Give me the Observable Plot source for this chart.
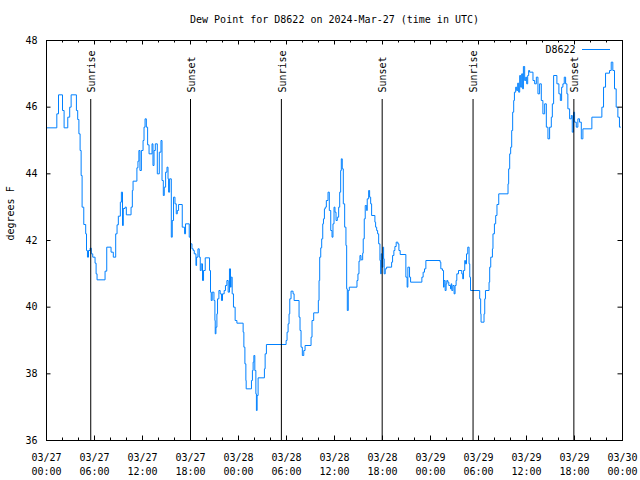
<!DOCTYPE html>
<html>
<head>
<meta charset="utf-8">
<script src="https://cdn.jsdelivr.net/npm/d3@7"></script>
<script src="https://cdn.jsdelivr.net/npm/@observablehq/plot@0.6"></script>
<style>
  html, body { margin: 0; padding: 0; background: #fff; }
  svg { display: block; }
</style>
</head>
<body>
<div id="chart"></div>
<script>
const chartTitle = "Dew Point for D8622 on 2024-Mar-27 (time in UTC)";
const yLabel = "degrees F";
const seriesName = "D8622";
const startUTC = Date.UTC(2024, 2, 27, 0, 0, 0);
const endHour = 72;

// hours since 2024-03-27 00:00 UTC
const hours = [
  0, 1.29, 1.5, 2.0, 2.2, 2.66, 2.9, 3.08, 3.74, 3.9, 4.05, 4.2, 4.33, 4.45, 4.66, 4.9, 5.0, 5.12, 5.25, 5.45,
  5.6, 5.78, 6.07, 6.2, 6.32, 7.32, 7.53, 8.07, 8.35, 8.65, 8.82, 8.98, 9.23, 9.36, 9.5, 9.6, 9.82, 9.98, 10.57, 10.73,
  10.82, 11.3, 11.43, 11.55, 11.68, 11.86, 12.07, 12.19, 12.32, 12.48, 12.64, 12.82, 13.19, 13.31, 13.44, 13.6, 13.85, 14.1, 14.31, 14.44,
  14.6, 14.72, 14.89, 15.06, 15.19, 15.26, 15.39, 15.6, 15.72, 15.88, 16.06, 16.22, 16.35, 16.51, 16.97, 17.26, 17.38, 17.84, 18.0, 18.18,
  18.34, 18.47, 18.68, 18.76, 18.93, 19.09, 19.22, 19.34, 19.5, 19.63, 19.84, 20.38, 20.5, 20.59, 20.71, 20.93, 21.05, 21.09, 21.18, 21.3,
  21.38, 21.55, 21.71, 21.87, 22.0, 22.21, 22.37, 22.55, 22.71, 22.87, 23.0, 23.08, 23.21, 23.37, 23.58, 23.8, 24.58, 24.67, 24.8, 24.92,
  24.96, 25.62, 25.74, 25.83, 25.92, 26.04, 26.17, 26.24, 26.33, 26.45, 27.24, 27.33, 27.49, 29.95, 30.07, 30.2, 30.32, 30.41, 30.57, 30.82,
  30.95, 31.57, 31.69, 31.82, 31.98, 32.16, 32.32, 33.07, 33.19, 33.4, 33.98, 34.07, 34.15, 34.28, 34.4, 34.53, 34.62, 34.74, 34.85, 34.98,
  35.19, 35.35, 35.53, 35.69, 35.81, 35.94, 36.06, 36.19, 36.35, 36.52, 36.65, 36.77, 36.85, 36.97, 37.1, 37.27, 37.43, 37.52, 37.6, 37.72,
  37.85, 38.81, 38.93, 39.06, 39.18, 39.31, 39.52, 39.59, 39.72, 39.84, 40.02, 40.09, 40.27, 40.39, 40.52, 40.64, 41.05, 41.14, 41.27, 41.39,
  41.52, 41.68, 41.77, 41.84, 41.93, 42.05, 42.14, 42.21, 42.34, 42.51, 43.14, 43.26, 43.42, 43.55, 43.71, 43.92, 44.05, 44.21, 44.92, 45.08,
  45.17, 45.38, 45.51, 46.92, 47.08, 47.25, 47.42, 49.2, 49.29, 49.5, 49.63, 49.7, 49.83, 49.95, 50.04, 50.16, 50.29, 50.5, 50.58, 50.66,
  50.79, 50.95, 51.07, 51.2, 51.29, 51.5, 51.91, 52.03, 52.12, 52.28, 52.37, 52.5, 52.66, 52.82, 52.91, 53.0, 54.15, 54.27, 54.32, 54.69,
  54.78, 54.87, 55.32, 55.4, 55.53, 55.74, 55.81, 55.99, 56.15, 56.31, 56.53, 57.69, 57.77, 57.9, 58.02, 58.15, 58.27, 58.4, 58.49, 58.65,
  58.77, 58.9, 59.02, 59.15, 59.27, 59.4, 59.52, 59.61, 59.77, 59.9, 60.02, 60.15, 60.27, 60.39, 60.81, 61.02, 61.23, 61.43, 61.64, 61.85,
  62.05, 62.27, 62.48, 62.68, 62.89, 63.1, 63.23, 63.39, 63.8, 64.05, 64.23, 64.39, 64.55, 64.72, 64.89, 65.05, 65.17, 65.39, 65.6, 65.72,
  65.88, 66.01, 66.22, 66.42, 66.63, 66.85, 67.05, 68.17, 69.42, 69.63, 69.88, 70.38, 70.59, 70.79, 71.0, 71.21, 71.42, 71.62, 71.75
];

// dew point, degrees F
const dewPoint = [
  45.38, 45.8, 46.37, 45.9, 45.38, 45.7, 46.0, 46.37, 45.9, 45.63, 45.2, 44.7, 43.95, 43.0, 42.48, 42.2, 41.7, 41.5, 41.7, 41.77,
  41.6, 41.5, 41.32, 41.0, 40.82, 41.08, 41.8, 41.65, 41.5, 42.2, 42.47, 42.73, 43.15, 43.45, 42.45, 42.96, 43.0, 42.77, 43.0, 43.5,
  43.78, 44.18, 44.38, 44.7, 44.1, 44.7, 45.0, 45.4, 45.65, 45.4, 44.87, 44.6, 44.9, 44.25, 44.7, 44.9, 44.0, 44.65, 45.0, 43.8,
  43.35, 43.6, 44.05, 44.2, 43.85, 43.45, 43.85, 42.1, 42.6, 43.3, 43.1, 42.8, 42.9, 43.08, 42.4, 42.2, 42.5, 42.1, 41.9, 41.75,
  41.7, 41.6, 41.25, 41.5, 41.75, 41.5, 41.1, 41.3, 40.8, 41.1, 41.48, 41.1, 40.45, 40.2, 40.45, 40.2, 39.6, 39.2, 39.4, 39.8,
  40.25, 40.5, 40.4, 40.2, 40.4, 40.5, 40.65, 40.8, 40.45, 41.15, 40.6, 40.9, 40.4, 40.0, 39.6, 39.52, 39.25, 38.8, 38.3, 37.8,
  37.55, 37.8, 38.1, 38.35, 38.55, 38.1, 37.4, 36.9, 37.35, 37.88, 38.15, 38.6, 38.88, 39.0, 39.25, 39.5, 39.8, 40.25, 40.48, 40.4,
  40.2, 39.7, 39.3, 38.8, 38.55, 38.7, 38.85, 39.1, 39.6, 39.83, 40.2, 40.8, 41.5, 41.78, 42.05, 42.5, 42.65, 42.95, 43.0, 43.2,
  43.45, 42.9, 42.3, 42.1, 42.5, 43.0, 42.85, 42.6, 42.7, 43.0, 43.45, 44.1, 44.45, 44.15, 43.1, 42.4, 41.85, 40.55, 39.9, 40.5,
  40.6, 40.8, 41.0, 41.38, 41.55, 41.42, 41.62, 42.05, 42.65, 43.05, 42.9, 43.25, 43.5, 43.3, 43.1, 42.75, 42.55, 42.4, 42.3, 42.2,
  41.9, 41.4, 41.0, 41.6, 41.2, 41.8, 41.45, 41.0, 41.15, 41.2, 41.35, 41.55, 41.7, 41.82, 41.95, 41.9, 41.7, 41.58, 40.9, 40.6,
  41.2, 40.9, 40.75, 40.9, 41.05, 41.15, 41.4, 41.35, 41.15, 41.1, 40.6, 40.8, 40.5, 40.7, 40.8, 40.75, 40.65, 40.55, 40.7, 40.5,
  40.65, 40.4, 40.65, 40.8, 41.0, 41.1, 41.0, 40.85, 41.1, 41.4, 41.3, 41.6, 41.8, 41.3, 40.9, 40.5, 40.25, 39.8, 39.55, 39.8,
  40.25, 40.5, 40.75, 41.2, 41.5, 41.75, 42.2, 42.5, 42.75, 43.08, 43.4, 43.7, 44.15, 44.6, 44.8, 45.3, 45.85, 46.2, 46.45, 46.6,
  46.5, 46.72, 46.45, 46.95, 46.6, 47.0, 46.55, 47.22, 46.8, 46.9, 46.7, 46.95, 47.1, 47.05, 46.8, 46.7, 46.9, 46.4, 46.7, 46.2,
  45.8, 46.1, 45.4, 45.05, 45.4, 45.7, 46.1, 46.95, 46.7, 46.4, 46.2, 46.6, 46.7, 46.9, 46.7, 46.4, 45.95, 45.65, 45.75, 45.25,
  45.85, 45.55, 45.4, 45.65, 45.55, 45.05, 45.35, 45.7, 46.0, 46.6, 47.02, 47.1, 47.35, 47.1, 46.55, 46.0, 45.7, 45.4, 45.4
];

const sunLabels = ["Sunrise", "Sunset", "Sunrise", "Sunset", "Sunrise", "Sunset"];
const sunHours = [5.53, 18.0, 29.36, 41.96, 53.32, 65.92];

const yTicks = [36, 38, 40, 42, 44, 46, 48];
const majorTickHours = [0, 6, 12, 18, 24, 30, 36, 42, 48, 54, 60, 66, 72];
const minorTickHours = [0, 2, 4, 6, 8, 10, 12, 14, 16, 18, 20, 22, 24, 26, 28, 30, 32, 34, 36,
                        38, 40, 42, 44, 46, 48, 50, 52, 54, 56, 58, 60, 62, 64, 66, 68, 70, 72];

const lineColor = "#0080ff";
const toDate = h => new Date(startUTC + h * 3600e3);

const data = hours.map((h, i) => ({date: toDate(h), dew: dewPoint[i]}));
const majorDates = majorTickHours.map(toDate);
const minorDates = minorTickHours.map(toDate);
const sunData = sunHours.map((h, i) => ({date: toDate(h), label: sunLabels[i]}));

const W = 640, H = 480, mL = 46, mR = 18, mT = 40, mB = 40;
const frameW = W - mL - mR, frameH = H - mT - mB;

const legendLine = (index, scales, values, dims) => {
  const x2 = dims.width - dims.marginRight - 12;
  return d3.create("svg:line")
    .attr("x1", x2 - 28).attr("x2", x2)
    .attr("y1", dims.marginTop + 9.5).attr("y2", dims.marginTop + 9.5)
    .attr("stroke", lineColor).attr("stroke-width", 1)
    .node();
};

const chart = Plot.plot({
  width: W, height: H,
  marginLeft: mL, marginRight: mR, marginTop: mT, marginBottom: mB,
  style: {fontFamily: "'DejaVu Sans Mono', monospace", fontSize: "10px", color: "#000", background: "#fff"},
  x: {type: "utc", domain: [toDate(0), toDate(endHour)]},
  y: {domain: [36, 48]},
  marks: [
    Plot.line(data, {x: "date", y: "dew", stroke: lineColor, strokeWidth: 1, curve: "step-after"}),
    Plot.ruleX(sunData, {x: "date", insetTop: 59, stroke: "#000", strokeWidth: 1}),
    Plot.text(sunData, {x: "date", text: "label", frameAnchor: "top", dy: 52, dx: 1,
      rotate: -90, textAnchor: "start", lineAnchor: "middle", fill: "#000"}),
    // tick marks (inward, mirrored)
    Plot.tickX(minorDates, {x: d => d, insetTop: frameH - 2.5, stroke: "#000"}),
    Plot.tickX(minorDates, {x: d => d, insetBottom: frameH - 2.5, stroke: "#000"}),
    Plot.tickX(majorDates, {x: d => d, insetTop: frameH - 4.5, stroke: "#000"}),
    Plot.tickX(majorDates, {x: d => d, insetBottom: frameH - 4.5, stroke: "#000"}),
    Plot.tickY(yTicks, {y: d => d, insetRight: frameW - 4.5, stroke: "#000"}),
    Plot.tickY(yTicks, {y: d => d, insetLeft: frameW - 4.5, stroke: "#000"}),
    Plot.axisY({ticks: yTicks, tickSize: 0, tickPadding: 9, label: null, tickFormat: d => String(d)}),
    Plot.axisX({ticks: majorDates, tickSize: 0, tickPadding: 10, label: null, lineHeight: 1.45,
      tickFormat: d3.utcFormat("%m/%d\n%H:%M")}),
    Plot.frame({stroke: "#000"}),
    Plot.text([chartTitle], {frameAnchor: "top", dy: -21, lineAnchor: "middle", fill: "#000"}),
    Plot.text([yLabel], {frameAnchor: "left", dx: -36, rotate: -90, lineAnchor: "middle", fill: "#000"}),
    Plot.text([seriesName], {frameAnchor: "top-right", dx: -47, dy: 9, textAnchor: "end", lineAnchor: "middle", fill: "#000"}),
    legendLine
  ]
});

document.getElementById("chart").appendChild(chart);
</script>
</body>
</html>
